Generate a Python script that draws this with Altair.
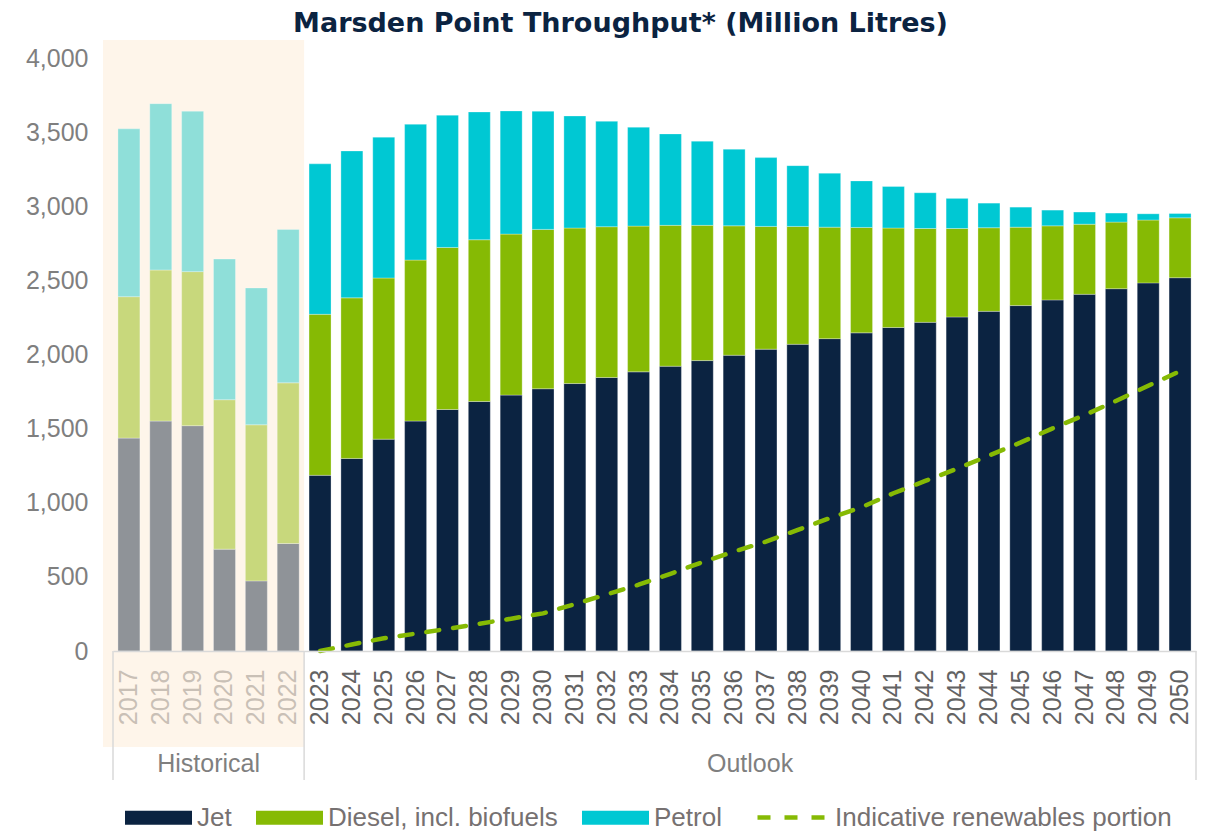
import altair as alt
import pandas as pd

# ---------------- data ----------------
years = ["2017", "2018", "2019", "2020", "2021", "2022",
         "2023", "2024", "2025", "2026", "2027", "2028", "2029", "2030",
         "2031", "2032", "2033", "2034", "2035", "2036", "2037", "2038",
         "2039", "2040", "2041", "2042", "2043", "2044", "2045", "2046",
         "2047", "2048", "2049", "2050"]
historical_years = ["2017", "2018", "2019", "2020", "2021", "2022"]

jet = [1436, 1551, 1520, 687, 473, 725,
       1185, 1299, 1429, 1551, 1629, 1683, 1726, 1769, 1804, 1845, 1883,
       1921, 1959, 1995, 2036, 2069, 2107, 2146, 2182, 2217, 2253, 2291,
       2330, 2368, 2406, 2444, 2483, 2518]
diesel = [954, 1019, 1039, 1008, 1053, 1084,
          1086, 1083, 1087, 1086, 1093, 1091, 1086, 1075, 1049, 1017, 983,
          950, 912, 873, 828, 795, 752, 711, 671, 633, 597, 564,
          529, 500, 473, 449, 424, 404]
petrol = [1132, 1122, 1082, 949, 923, 1035,
          1015, 991, 950, 916, 892, 862, 831, 797, 756, 711, 667,
          617, 568, 517, 464, 410, 364, 314, 280, 241, 203, 166,
          135, 106, 82, 61, 42, 29]

renew_years = ["2023", "2024", "2025", "2026", "2027", "2028", "2029", "2030",
               "2031", "2032", "2033", "2034", "2035", "2036", "2037", "2038",
               "2039", "2040", "2041", "2042", "2043", "2044", "2045", "2046",
               "2047", "2048", "2049", "2050"]
renewables = [0, 44, 86, 117, 149, 184, 218, 254, 316, 382, 447, 521, 599, 671,
              738, 817, 896, 970, 1064, 1147, 1230, 1318, 1407, 1502, 1591,
              1688, 1789, 1888]

fuels = ["Jet", "Diesel, incl. biofuels", "Petrol"]
hist_keys = ["Jet (historical)", "Diesel (historical)", "Petrol (historical)"]
groups = ["Historical", "Outlook"]
y_ticks = [0, 500, 1000, 1500, 2000, 2500, 3000, 3500, 4000]

# ---------------- styles ----------------
FONT = "Liberation Sans"
NAVY = "#0B2341"
GREEN = "#86BA04"
CYAN = "#00C8D3"
fill_domain = fuels + hist_keys
fill_range = [NAVY, GREEN, CYAN, "#8F9398", "#C8D87C", "#8FDFD9"]

rows = []
for i, y in enumerate(years):
    hist = y in historical_years
    for k, (name, vals) in enumerate(zip(fuels, [jet, diesel, petrol])):
        rows.append({
            "Year": y,
            "Fuel": hist_keys[k] if hist else name,
            "Order": k,
            "Value": vals[i],
        })
bars_df = pd.DataFrame(rows)
line_df = pd.DataFrame({"Year": renew_years, "Renewables": renewables,
                        "Series": "Indicative renewables portion"})

n_hist = len(historical_years)
n_all = len(years)
bounds_df = pd.DataFrame({"pos": [0, n_hist, n_all]})
group_df = pd.DataFrame({"Group": groups,
                         "mid": [n_hist / 2, (n_hist + n_all) / 2]})
shade_df = pd.DataFrame({"start": [0], "end": [n_hist]})

W, H = 1083, 593
yscale = alt.Scale(domain=[0, 4000], nice=False)
xband = alt.Scale(domain=years, paddingInner=0.31, paddingOuter=0.155)
xq = alt.Scale(domain=[0, n_all], nice=False, zero=False)

y_axis = alt.Axis(title=None, values=y_ticks, format=",.0f", domain=False,
                  ticks=False, grid=False, labelPadding=25, labelFont=FONT,
                  labelFontSize=25, labelColor="#7F7F7F")

LEG_Y = 726
LEG_FONT = 26

shade = alt.Chart(shade_df).mark_rect(color="#FEF5EA").encode(
    x=alt.X("start:Q", scale=xq, axis=None),
    x2="end:Q",
    xOffset=alt.value(-10),
    y=alt.value(-18),
    y2=alt.value(689),
)

bars = alt.Chart(bars_df).mark_bar(stroke="white", strokeWidth=0.6, strokeOpacity=0.5).encode(
    x=alt.X("Year:N", scale=xband, sort=years,
            axis=alt.Axis(title=None, labelAngle=270, labelAlign="right",
                          labelBaseline="middle", labelPadding=18, ticks=False,
                          domainColor="#D9D9D9", domainWidth=1.5, zindex=1,
                          labelFont=FONT, labelFontSize=25,
                          labelColor=alt.condition("toNumber(datum.value) < 2023",
                                                   alt.value("#C9C0B6"),
                                                   alt.value("#636363")))),
    y=alt.Y("Value:Q", stack="zero", scale=yscale, axis=y_axis),
    fill=alt.Fill("Fuel:N", scale=alt.Scale(domain=fill_domain, range=fill_range),
                  legend=alt.Legend(values=fuels, title=None, orient="none",
                                    legendX=12, legendY=LEG_Y, direction="horizontal",
                                    symbolType="M-1,-0.21H1V0.21H-1Z", symbolSize=4489,
                                    symbolStrokeWidth=0, labelFont=FONT,
                                    labelFontSize=LEG_FONT, labelColor="#767171",
                                    labelOffset=5, columnPadding=24, labelLimit=600)),
    order=alt.Order("Order:Q"),
)

line = alt.Chart(line_df).mark_line(strokeWidth=4.5, strokeDash=[13, 14],
                                    strokeCap="round").encode(
    x=alt.X("Year:N", scale=xband, sort=years, axis=None),
    y=alt.Y("Renewables:Q", scale=yscale, axis=y_axis),
    stroke=alt.Stroke("Series:N", scale=alt.Scale(range=[GREEN]),
                      legend=alt.Legend(title=None, orient="none", legendX=642,
                                        legendY=LEG_Y - 4, symbolType="stroke",
                                        symbolSize=4900, symbolStrokeWidth=4.5,
                                        symbolDash=[13, 14], labelFont=FONT,
                                        labelFontSize=LEG_FONT, labelColor="#767171",
                                        labelOffset=5, labelLimit=600)),
)

seps = alt.Chart(bounds_df).mark_rule(color="#D9D9D9", strokeWidth=1.5).encode(
    x=alt.X("pos:Q", scale=xq, axis=None),
    y=alt.value(H),
    y2=alt.value(722),
)

glabels = alt.Chart(group_df).mark_text(font=FONT, fontSize=25, color="#7F7F7F",
                                        baseline="middle", align="center").encode(
    x=alt.X("mid:Q", scale=xq, axis=None),
    y=alt.value(706),
    text="Group:N",
)

chart = alt.layer(shade, bars, line, seps, glabels).resolve_scale(
    x="independent", fill="independent", stroke="independent"
).properties(
    width=W, height=H,
    title=alt.Title("Marsden Point Throughput* (Million Litres)", font="DejaVu Sans",
                    fontSize=27, fontWeight="bold", color=NAVY, anchor="middle",
                    dx=-34, dy=25, baseline="alphabetic", offset=6),
    autosize=alt.AutoSizeParams(type="none"),
    padding={"left": 105, "top": 50, "right": 10, "bottom": 180},
).configure_view(stroke=None)

chart.save("out.html", embed_options={"renderer": "svg", "actions": False})
